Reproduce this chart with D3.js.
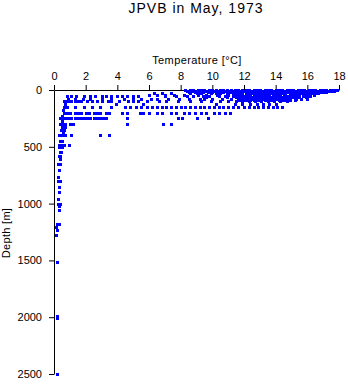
<!DOCTYPE html>
<html>
<head>
<meta charset="utf-8">
<script src="https://cdn.jsdelivr.net/npm/d3@7"></script>
<style>
  body { margin: 0; background: #fff; }
  svg { display: block; font-family: "Liberation Sans", Arial, sans-serif; }
</style>
</head>
<body>
<div id="chart"></div>
<script>
// temperatures [°C], one array per sample depth [m]
const t0 = [8.3, 8.6, 8.8, 9.1, 9.3, 9.5, 9.8, 10.0, 10.2, 10.5, 10.7, 10.9, 11.2, 11.4, 11.6, 11.9, 12.1, 12.3, 12.6, 12.8, 13.0, 13.3, 13.5, 13.7, 14.0, 14.2, 14.4, 14.7, 14.9, 15.1, 15.4, 15.6, 15.8, 16.1, 16.3, 16.5, 16.8, 17.0, 17.2, 17.4, 17.6, 17.8, 17.9];
const t10 = [8.4, 8.7, 9.0, 9.2, 9.6, 9.9, 10.1, 10.3, 10.6, 10.8, 11.1, 11.3, 11.5, 11.8, 12.0, 12.2, 12.5, 12.7, 12.9, 13.2, 13.4, 13.6, 13.9, 14.1, 14.3, 14.6, 14.8, 15.0, 15.3, 15.5, 15.7, 16.0, 16.2, 16.4, 16.7, 16.9, 17.1, 17.3, 17.5, 17.7];
const t20 = [8.5, 8.9, 9.2, 9.4, 9.7, 10.0, 10.4, 10.7, 11.0, 11.2, 11.4, 11.7, 11.9, 12.2, 12.4, 12.6, 12.9, 13.1, 13.3, 13.6, 13.8, 14.0, 14.3, 14.5, 14.7, 15.0, 15.2, 15.4, 15.7, 15.9, 16.1, 16.4, 16.6, 16.8, 17.0, 17.2];
const t30 = [6.3, 6.8, 7.4, 8.6, 9.0, 9.3, 9.9, 10.2, 10.5, 10.9, 11.3, 11.6, 11.8, 12.1, 12.3, 12.5, 12.8, 13.0, 13.2, 13.5, 13.7, 13.9, 14.2, 14.4, 14.6, 14.9, 15.1, 15.3, 15.6, 15.8, 16.0, 16.3, 16.5, 16.7];
const t40 = [6.0, 6.5, 7.0, 7.6, 8.2, 9.1, 9.6, 10.3, 11.0, 11.5, 11.9, 12.2, 12.4, 12.6, 12.9, 13.2, 13.4, 13.6, 13.9, 14.1, 14.3, 14.6, 14.9, 15.2, 15.5, 15.8, 16.1, 16.4];
const t50 = [0.8, 1.1, 1.4, 1.9, 2.3, 2.6, 3.0, 3.3, 3.6, 4.0, 4.3, 4.6, 5.0, 5.3, 7.0, 7.7, 8.4, 8.8, 9.4, 9.8, 10.4, 10.8, 11.3, 11.7, 12.0, 12.2, 12.4, 12.7, 12.9, 13.1, 13.4, 13.6, 13.8, 14.1, 14.3, 14.5, 14.8, 15.1, 15.4, 15.7, 16.0, 16.2];
const t60 = [11.9, 12.1, 12.3, 12.5, 12.7, 12.9, 13.1, 13.3, 13.5, 13.7, 14.0, 14.2, 14.4, 14.7, 14.9, 15.1, 15.5, 15.9];
const t65 = [9.6, 10.9, 11.5, 12.0, 12.4, 12.8, 13.2, 13.6, 13.9, 14.3, 14.6, 15.0, 15.3];
const t75 = [0.9, 1.3, 1.8, 2.3, 3.0, 3.6, 4.4, 5.0, 5.5, 6.1, 6.5, 7.2, 7.9, 8.5, 9.2, 9.5, 10.0, 10.6, 11.2, 11.6, 11.8, 12.0, 12.3, 12.5, 12.7, 13.0, 13.2, 13.4, 13.8, 14.1, 14.3, 14.5, 14.9, 15.3, 15.6, 16.0];
const t85 = [11.7, 12.1, 12.4, 12.8, 13.1, 13.5, 13.8, 14.2, 14.5, 14.9];
const t90 = [11.8, 12.0, 12.2, 12.4, 12.6, 12.9, 13.1, 13.3, 13.5, 13.7, 13.9, 14.2, 14.4, 14.6, 14.8, 15.2];
const t100 = [0.6, 0.7, 0.9, 1.1, 1.3, 1.5, 1.7, 2.1, 2.4, 2.7, 3.0, 3.4, 3.6, 4.1, 4.7, 5.0, 5.3, 5.9, 6.6, 7.1, 7.8, 8.6, 9.3, 9.9, 10.5, 11.0, 11.5, 11.9, 12.3, 12.7, 13.1, 13.5, 13.9, 14.3, 14.7];
const t125 = [0.7, 3.9, 5.6, 10.2, 11.4, 11.9, 12.4, 12.8, 13.2, 13.6, 14.0];
const t150 = [0.6, 0.8, 1.3, 1.9, 2.4, 2.9, 3.6, 4.5, 4.8, 5.2, 5.5, 5.9, 6.2, 6.5, 6.8, 7.1, 7.4, 7.7, 8.0, 8.3, 8.6, 8.9, 9.2, 9.5, 9.8, 10.1, 10.4, 10.7, 11.0, 11.3, 11.6, 12.0, 12.3, 12.6, 12.9, 13.2, 13.5, 13.8, 14.1, 14.4];
const t200 = [0.6, 0.8, 1.0, 1.3, 1.5, 1.7, 2.0, 2.2, 2.5, 2.7, 2.9, 3.3, 3.5, 4.3, 4.6, 5.4, 5.6, 6.0, 6.5, 6.8, 7.4, 7.7, 8.2, 8.5, 8.9, 9.3, 9.6, 10.1, 10.4, 10.8, 11.1];
const t250 = [0.4, 0.5, 0.7, 0.9, 1.1, 1.3, 1.5, 1.7, 1.9, 2.1, 2.3, 2.5, 2.7, 2.9, 3.1, 3.3, 4.6, 7.8, 8.1, 9.0, 9.7];
const t300 = [0.4, 0.5, 0.7, 1.0, 1.2, 4.6, 6.9, 7.4];
const t400 = [0.3, 0.4, 0.5, 0.6, 0.7, 1.1, 2.9, 3.45];

const upperProfile = [
  [0, t0], [10, t10], [20, t20], [30, t30], [40, t40], [50, t50], [60, t60], [65, t65],
  [75, t75], [85, t85], [90, t90], [100, t100], [125, t125], [150, t150],
  [200, t200], [250, t250], [300, t300], [400, t400]
];

// scattered deep samples
const deepDepth = [175, 225, 275, 325, 325, 350, 350, 370, 450, 450, 480, 480, 480, 480, 500, 500, 500, 550, 550, 580, 580, 610, 650, 650, 700, 770, 800, 800, 850, 900, 960, 1000, 1000, 1020, 1060, 1180, 1180, 1210, 1230, 1280, 1510, 1990, 2005, 2500];
const deepTemp  = [0.55, 0.5, 0.5, 0.5, 0.7, 0.45, 0.6, 0.55, 0.35, 0.5, 0.3, 0.45, 0.6, 0.93, 0.3, 0.4, 0.5, 0.35, 0.45, 0.3, 0.4, 0.35, 0.25, 0.35, 0.3, 0.28, 0.25, 0.35, 0.3, 0.3, 0.28, 0.25, 0.35, 0.3, 0.3, 0.2, 0.3, 0.15, 0.2, 0.15, 0.18, 0.22, 0.22, 0.2];

const tempTicks = [0, 2, 4, 6, 8, 10, 12, 14, 16, 18];
const depthTicks = [0, 500, 1000, 1500, 2000, 2500];

const width = 348, height = 384;
const margin = {top: 90, right: 9, bottom: 10, left: 54};

const points = [];
upperProfile.forEach(([d, ts]) => ts.forEach(t => points.push({depth: d, temp: t})));
deepDepth.forEach((d, i) => points.push({depth: d, temp: deepTemp[i]}));

const svg = d3.select('#chart').append('svg')
  .attr('width', width)
  .attr('height', height);

const x = d3.scaleLinear().domain([0, 18]).range([margin.left, width - margin.right]);
const y = d3.scaleLinear().domain([0, 2500]).range([margin.top, height - margin.bottom]);

const xAxis = svg.append('g')
  .attr('transform', `translate(0,${margin.top})`)
  .call(d3.axisTop(x).tickValues(tempTicks).tickSize(5).tickSizeOuter(0).tickPadding(5));

const yAxis = svg.append('g')
  .attr('transform', `translate(${margin.left},0)`)
  .call(d3.axisLeft(y).tickValues(depthTicks).tickFormat(d3.format('d'))
    .tickSize(5).tickSizeOuter(0).tickPadding(7));

[xAxis, yAxis].forEach(g => {
  g.selectAll('text')
    .style('font-family', '"Liberation Sans", Arial, sans-serif')
    .style('font-size', '11px')
    .attr('fill', '#000');
  g.selectAll('line, path').attr('stroke', '#000');
});

// points drawn over the axes, like the original
svg.append('g').attr('class', 'points')
  .selectAll('rect')
  .data(points)
  .enter().append('rect')
  .attr('x', d => Math.round(x(d.temp)) - 1)
  .attr('y', d => Math.round(y(d.depth)) - 1)
  .attr('width', 3)
  .attr('height', 3)
  .attr('fill', '#0000ff');

// title and axis labels
svg.append('text')
  .attr('x', 196)
  .attr('y', 13)
  .attr('text-anchor', 'middle')
  .style('font-size', '14px')
  .style('letter-spacing', '1px')
  .text('JPVB in May, 1973');

svg.append('text')
  .attr('x', 197)
  .attr('y', 64)
  .attr('text-anchor', 'middle')
  .style('font-size', '11px')
  .style('letter-spacing', '0.4px')
  .text('Temperature [°C]');

svg.append('text')
  .attr('transform', 'translate(10,233) rotate(-90)')
  .attr('text-anchor', 'middle')
  .style('font-size', '11px')
  .style('letter-spacing', '0.3px')
  .text('Depth [m]');
</script>
</body>
</html>
